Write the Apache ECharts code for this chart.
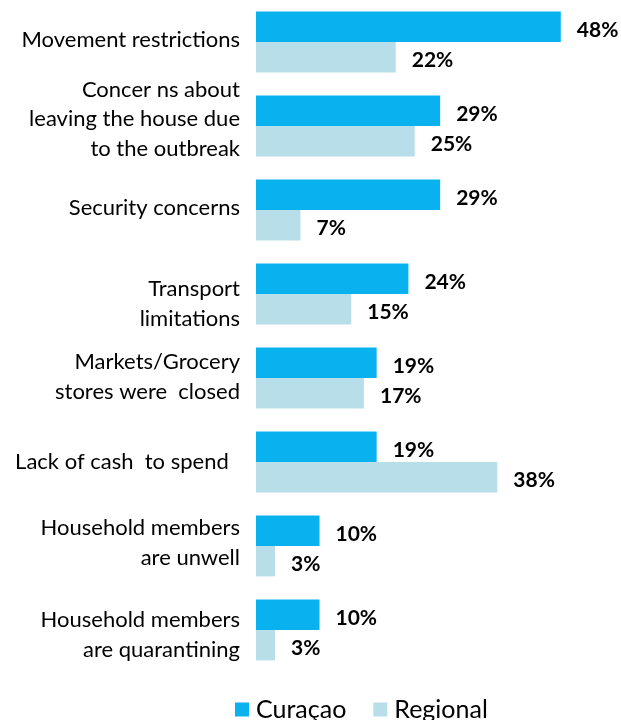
<!DOCTYPE html>
<html>
<head>
<meta charset="utf-8">
<script src="https://cdn.jsdelivr.net/npm/echarts@6/dist/echarts.min.js"></script>
<style>
html,body{margin:0;padding:0;background:#fff;}
#chart{width:621px;height:720px;}
</style>
</head>
<body>
<div id="chart"></div>
<script>
const categories = [
  'Movement restrictions',
  'Concer ns about\nleaving the house due\nto the outbreak',
  'Security concerns',
  'Transport\nlimitations',
  'Markets/Grocery\nstores were  closed',
  'Lack of cash  to spend  ',
  'Household members\nare unwell',
  'Household members\nare quarantining'
];
const seriesNames = ['Curaçao', 'Regional'];
const curacaoValues = [48, 29, 29, 24, 19, 19, 10, 10];
const regionalValues = [22, 25, 7, 15, 17, 38, 3, 3];

const FONT = 'Lato, "Noto Sans", sans-serif';
// vertical nudges of the category labels (px, + = down)
const labelShift = [-2, -7, -2, 10, -1, 0, -3, 5];
const LBL_SIZE = 22;
const LBL_LH = 29.5;

const rich = {};
labelShift.forEach(d => {
  const h = Math.abs(2 * d);
  if (h > 0) rich['sp' + h] = { fontSize: 1, lineHeight: h, height: h, fontFamily: FONT };
});

const chart = echarts.init(document.getElementById('chart'));
const valueLabel = {
  show: true,
  position: 'right',
  distance: 16,
  offset: [0, 3],
  formatter: p => p.value + '%',
  fontFamily: FONT,
  fontWeight: 'bold',
  fontSize: 21,
  color: '#000'
};
chart.setOption({
  animation: false,
  backgroundColor: '#fff',
  grid: { left: 256, right: 47.5, top: -1.6, bottom: 48, containLabel: false },
  legend: {
    data: seriesNames,
    left: 230,
    bottom: -7,
    icon: 'rect',
    itemWidth: 14,
    itemHeight: 14,
    itemGap: 27,
    textStyle: { fontFamily: FONT, fontSize: 25, color: '#000', padding: [0, 0, 0, 2] }
  },
  xAxis: {
    type: 'value', min: 0, max: 50,
    axisLine: { show: false }, axisTick: { show: false },
    axisLabel: { show: false }, splitLine: { show: false }
  },
  yAxis: {
    type: 'category', inverse: true,
    data: categories,
    axisLine: { show: false }, axisTick: { show: false },
    axisLabel: {
      margin: 16, fontFamily: FONT, fontSize: LBL_SIZE, lineHeight: LBL_LH,
      color: '#000', align: 'right',
      formatter: (value, idx) => {
        const d = labelShift[idx];
        const h = Math.abs(2 * d);
        if (!h) return value;
        const sp = '{sp' + h + '|\u00a0}';
        return d > 0 ? sp + '\n' + value : value + '\n' + sp;
      },
      rich: rich
    }
  },
  series: [
    {
      name: seriesNames[0], type: 'bar', data: curacaoValues,
      itemStyle: { color: '#0AB1EF' },
      barGap: '0%', barCategoryGap: '27.6%',
      label: valueLabel
    },
    {
      name: seriesNames[1], type: 'bar', data: regionalValues,
      itemStyle: { color: '#B8DEEA' },
      barGap: '0%', barCategoryGap: '27.6%',
      label: valueLabel
    }
  ]
});
</script>
</body>
</html>
